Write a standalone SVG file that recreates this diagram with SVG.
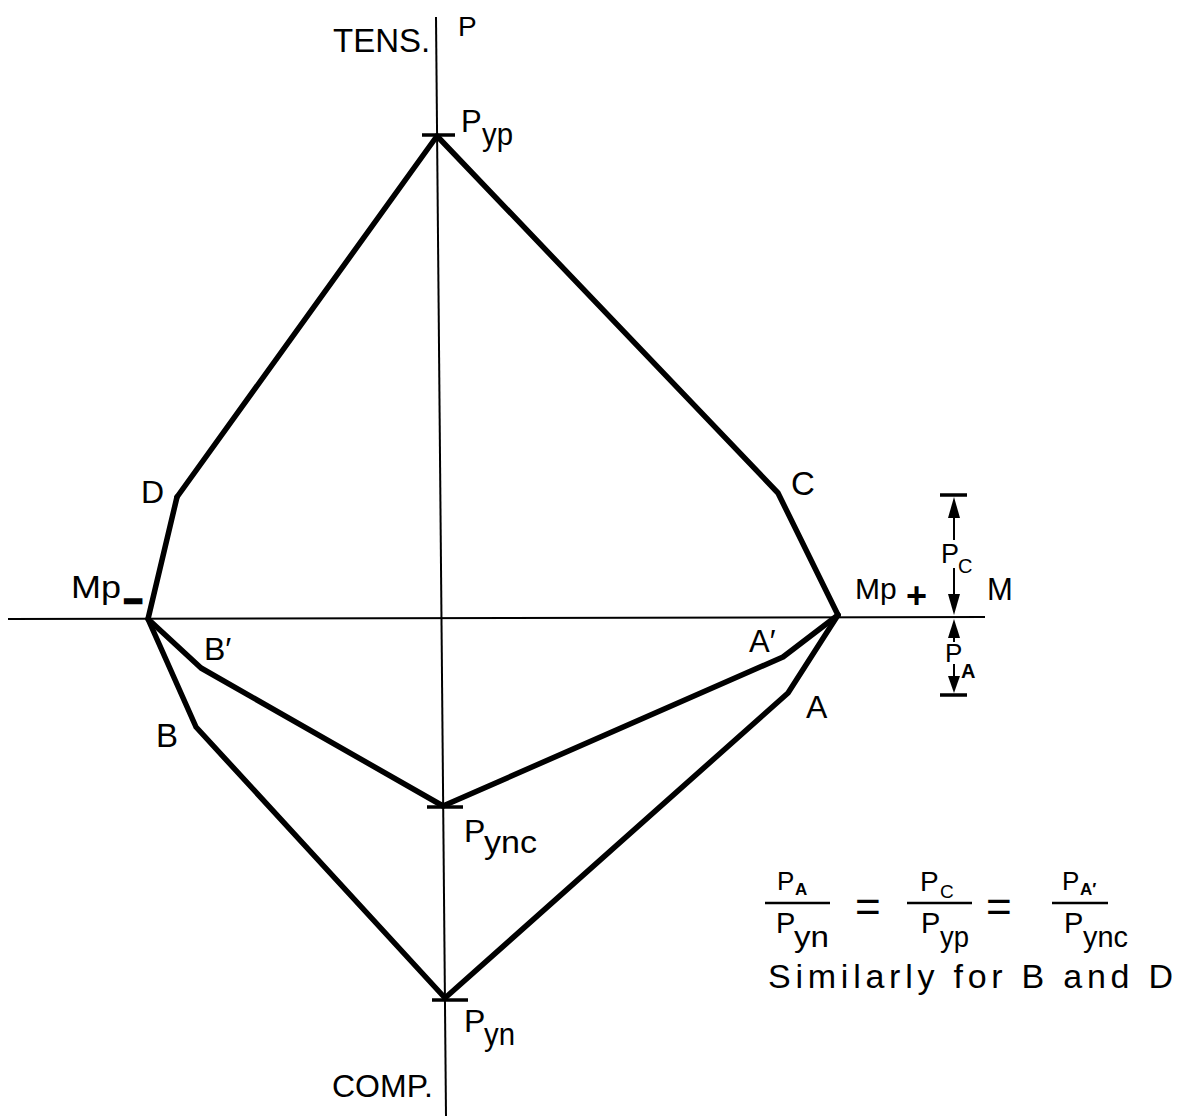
<svg xmlns="http://www.w3.org/2000/svg" width="1187" height="1116" viewBox="0 0 1187 1116">
<style>
text{font-family:"Liberation Sans",Arial,Helvetica,sans-serif;fill:#000}
.lb{font-size:32px}
.sb{font-size:31px}
.ax{stroke:#000;stroke-width:2;fill:none}
.th{stroke:#000;stroke-width:5.5;fill:none;stroke-linejoin:round;stroke-linecap:round}
.tk{stroke:#000;stroke-width:3.5;fill:none}
.dm{stroke:#000;stroke-width:2;fill:none}
.fl{stroke:#000;stroke-width:2.5;fill:none}
.ah{fill:#000}
.eq{font-size:44px}
</style>
<rect width="1187" height="1116" fill="#fff"/>
<g id="axes">
<line class="ax" x1="436" y1="17" x2="446" y2="1116"/>
<line class="ax" x1="8" y1="619" x2="985" y2="617"/>
<text x="333" y="52" font-size="33">TENS.</text>
<text x="458" y="36" font-size="28">P</text>
<text x="332" y="1097" font-size="32">COMP.</text>
<text x="987" y="600" font-size="31">M</text>
</g>
<g id="connectors">
<polyline class="th" points="177,497 437,136 778,493 838,615"/>
<polyline class="th" points="838,615 788,693 445,998 196,727 148,619 177,497"/>
<polyline class="th" points="838,615 783,657 443,806 201,668 148,619"/>
</g>
<g id="node-Pyp">
<line class="tk" x1="422" y1="135" x2="455" y2="135"/>
<text x="461" y="132" font-size="31">P</text>
<text x="482" y="145" class="sb" textLength="31" lengthAdjust="spacingAndGlyphs">yp</text>
</g>
<g id="node-C"><text x="791" y="495" font-size="33">C</text></g>
<g id="node-D"><text x="141" y="503" class="lb">D</text></g>
<g id="node-Mpminus">
<text x="71" y="598" font-size="32" textLength="50" lengthAdjust="spacingAndGlyphs">Mp</text>
<text x="124" y="612" font-size="32" font-weight="bold" stroke="#000" stroke-width="2.5">−</text>
</g>
<g id="node-Mpplus">
<text x="855" y="599" font-size="30">Mp</text>
<text x="906" y="608" font-size="36" font-weight="bold">+</text>
</g>
<g id="node-Bprime"><text x="204" y="660" class="lb">B′</text></g>
<g id="node-B"><text x="156" y="747" font-size="33">B</text></g>
<g id="node-Aprime"><text x="749" y="652" font-size="31">A′</text></g>
<g id="node-A"><text x="806" y="718" class="lb">A</text></g>
<g id="node-Pync">
<line class="tk" x1="427" y1="807" x2="463" y2="807"/>
<text x="464" y="842" class="lb">P</text>
<text x="484" y="853" class="sb" textLength="53" lengthAdjust="spacingAndGlyphs">ync</text>
</g>
<g id="node-Pyn">
<line class="tk" x1="432" y1="1000" x2="468" y2="1000"/>
<text x="464" y="1032" class="lb">P</text>
<text x="484" y="1045" class="sb" textLength="31" lengthAdjust="spacingAndGlyphs">yn</text>
</g>
<g id="dimension">
<line class="tk" x1="940" y1="495" x2="967" y2="495"/>
<line class="tk" x1="940" y1="695" x2="967" y2="695"/>
<line class="dm" x1="954" y1="515" x2="954" y2="540"/>
<polygon class="ah" points="954,497 948,518 960,518"/>
<line class="dm" x1="954" y1="568" x2="954" y2="596"/>
<polygon class="ah" points="954,615 948,594 960,594"/>
<polygon class="ah" points="954,619 948,638 960,638"/>
<line class="dm" x1="954" y1="636" x2="954" y2="642"/>
<line class="dm" x1="954" y1="664" x2="954" y2="678"/>
<polygon class="ah" points="954,693 948,676 960,676"/>
<text x="941" y="563" font-size="27">P</text>
<text x="958" y="573" font-size="20">C</text>
<text x="945" y="662" font-size="26">P</text>
<text x="961" y="678" font-size="20" font-weight="bold">A</text>
</g>
<g id="formula">
<text x="777" y="890" font-size="26">P</text>
<text x="795" y="895" font-size="17" font-weight="bold">A</text>
<line class="fl" x1="765" y1="903" x2="830" y2="903"/>
<text x="776" y="933" font-size="29">P</text>
<text x="794" y="947" font-size="29" textLength="35" lengthAdjust="spacingAndGlyphs">yn</text>
<text x="855" y="922" class="eq">=</text>
<text x="920" y="891" font-size="28">P</text>
<text x="940" y="898" font-size="19">C</text>
<line class="fl" x1="907" y1="903" x2="972" y2="903"/>
<text x="921" y="933" font-size="29">P</text>
<text x="940" y="947" font-size="29" textLength="29" lengthAdjust="spacingAndGlyphs">yp</text>
<text x="986" y="922" class="eq">=</text>
<text x="1062" y="890" font-size="26">P</text>
<text x="1080" y="895" font-size="17" font-weight="bold">A′</text>
<line class="fl" x1="1052" y1="903" x2="1108" y2="903"/>
<text x="1064" y="933" font-size="29">P</text>
<text x="1083" y="947" font-size="29" textLength="45" lengthAdjust="spacingAndGlyphs">ync</text>
<text x="768" y="988" font-size="34" textLength="405" lengthAdjust="spacing">Similarly for B and D</text>
</g>
</svg>
